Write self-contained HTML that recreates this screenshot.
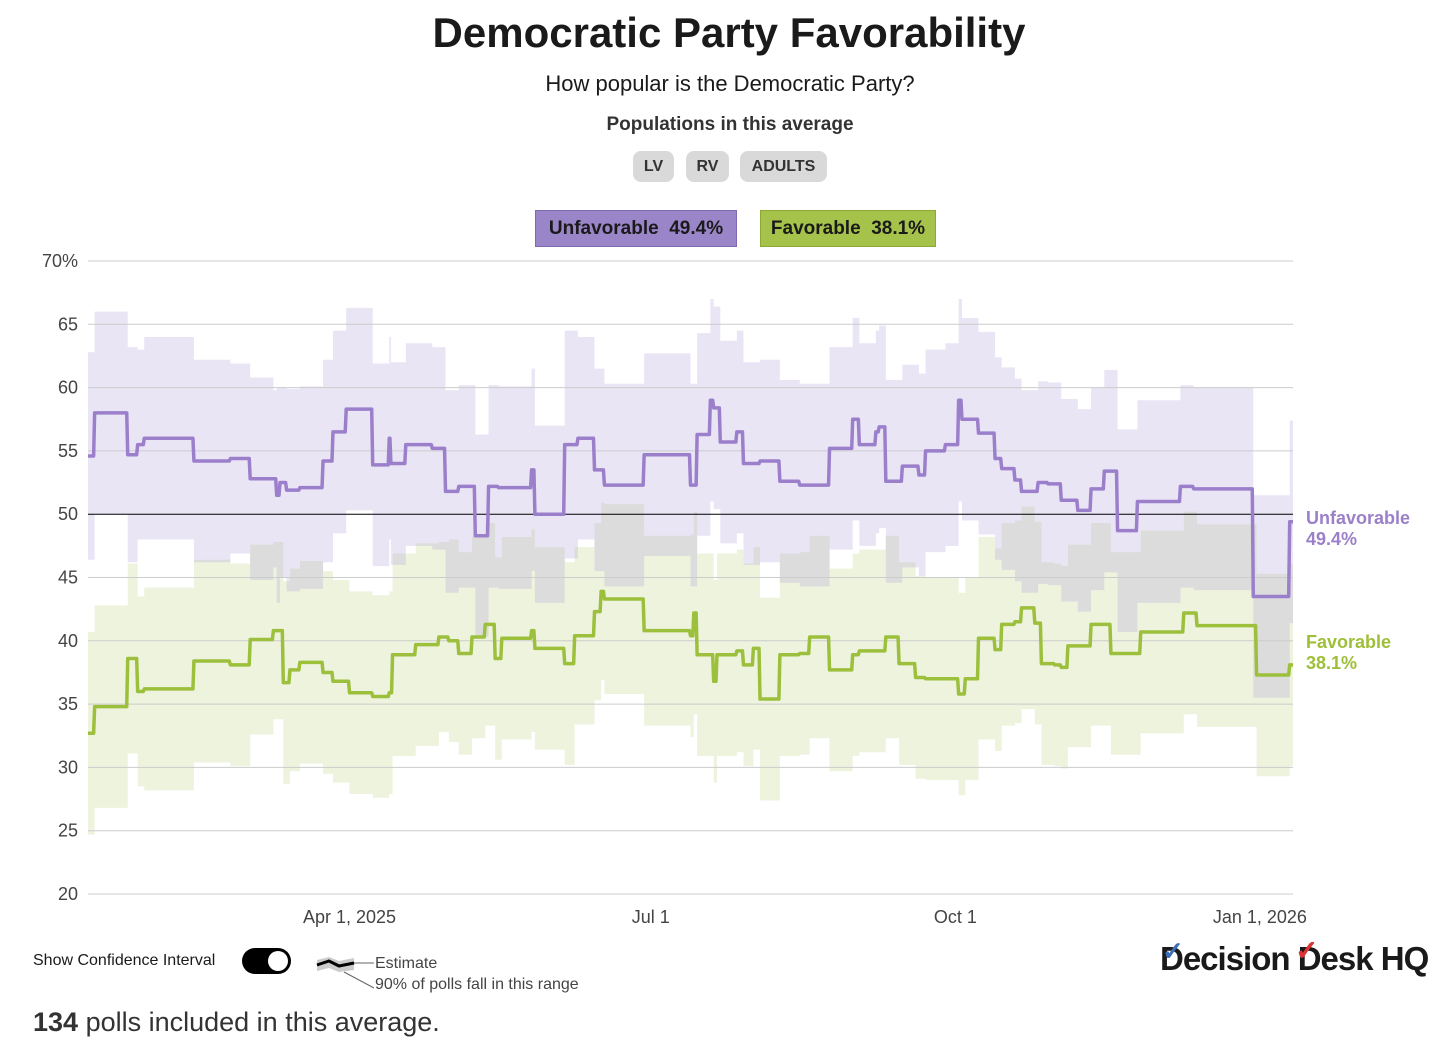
<!DOCTYPE html>
<html><head><meta charset="utf-8"><style>
body{margin:0;width:1456px;height:1051px;background:#fff;font-family:"Liberation Sans",sans-serif;color:#1a1a1a;position:relative;overflow:hidden}
.a{position:absolute}
.pill{position:absolute;top:151px;height:31px;background:#d9d9d9;border-radius:8px;font-weight:bold;font-size:16px;line-height:31px;text-align:center;color:#333}
</style></head><body>
<div class="a" style="left:0;width:1458px;top:9px;text-align:center;font-size:42px;font-weight:bold">Democratic Party Favorability</div>
<div class="a" style="left:0;width:1460px;top:71px;text-align:center;font-size:22px">How popular is the Democratic Party?</div>
<div class="a" style="left:0;width:1460px;top:114px;text-align:center;font-size:19px;font-weight:bold;color:#333">Populations in this average</div>
<div class="pill" style="left:633px;width:41px">LV</div>
<div class="pill" style="left:686px;width:43px">RV</div>
<div class="pill" style="left:740px;width:87px">ADULTS</div>
<div class="a" style="left:535px;top:210px;width:200px;height:35px;background:#9b85c9;border:1px solid #7e68b0;font-size:19px;font-weight:bold;line-height:35px;text-align:center">Unfavorable&nbsp; 49.4%</div>
<div class="a" style="left:760px;top:210px;width:174px;height:35px;background:#a5c24a;border:1px solid #8aa832;font-size:19px;font-weight:bold;line-height:35px;text-align:center">Favorable&nbsp; 38.1%</div>
<svg class="a" style="left:0;top:0" width="1456" height="1051">
<g id="bands"></g><g id="grid"></g><g id="lines"></g><g id="labels"></g>
</svg>
<div class="a" style="left:33px;top:952px;font-size:16px">Show Confidence Interval</div>
<div class="a" style="left:242px;top:948px;width:49px;height:26px;background:#000;border-radius:13px"><div style="position:absolute;right:3px;top:3px;width:20px;height:20px;border-radius:50%;background:#fff"></div></div>
<svg class="a" style="left:314px;top:950px" width="70" height="45">
<path d="M3 10 L15 7 L25 11 L40 8 L40 20 L25 22 L15 18 L3 21Z" fill="#ccc"/>
<path d="M3 15 L15 11 L25 16 L40 13" stroke="#000" stroke-width="3" fill="none"/>
<line x1="40" y1="13" x2="60" y2="13" stroke="#666"/><line x1="30" y1="22" x2="60" y2="38" stroke="#666"/>
</svg>
<div class="a" style="left:375px;top:955px;font-size:16px;color:#444">Estimate</div>
<div class="a" style="left:375px;top:976px;font-size:16px;color:#444">90% of polls fall in this range</div>
<div class="a" style="left:1160px;top:940px;font-size:33px;font-weight:bold;letter-spacing:-1px">Decision Desk HQ<span style="position:absolute;left:2px;top:-4px;color:#3a6fb5;font-size:26px">✓</span><span style="position:absolute;left:135px;top:-6px;color:#d33;font-size:28px">✓</span></div>
<div class="a" style="left:33px;top:1007px;font-size:27px;color:#333"><b>134</b> polls included in this average.</div>
<script>
const unfDays=[0,2,12,15,17,32,43,49,56,57,58,60,64,71,74,78,86,91,91.5,96,104,108,112,117,121,124,134,135,144,148,153,156,168,182,184,188,189,191,196,198,203,209,215,224,231,233,238,239,241,246,251,253,259,263,264,269,274,276,280,282,287,290,294,299,303,307,311,317,330,334,352,363];
const unfVals=[54.6,58,54.7,55.5,56,54.2,54.4,52.8,52.8,51.5,52.5,51.9,52.1,54.2,56.5,58.3,53.9,56,54,55.5,55.2,51.8,52.2,48.3,52.2,52.1,53.5,50,55.5,56,53.5,52.3,54.7,52.3,56.3,59,58.4,55.7,56.5,54,54.2,52.6,52.3,55.2,57.5,55.5,56.5,56.9,52.6,53.8,53.1,55,55.5,59,57.5,56.4,54.4,53.6,52.7,51.8,52.5,52.4,51.1,50.3,52,53.4,48.7,51,52.2,52,43.5,49.4];
const favDays=[0,2,12,15,17,32,43,49,56,59,61,64,71,74,79,86,91,92,99,106,109,112,116,120,123,125,134,135,144,147,153,155,156,168,182,183,184,189,190,196,198,201,203,209,215,218,224,231,233,241,245,250,253,263,265,269,274,276,280,282,286,288,292,294,296,303,309,318,328,331,335,353,363];
const favVals=[32.7,34.8,38.6,36,36.2,38.4,38.1,40.1,40.8,36.7,37.7,38.3,37.5,36.8,35.9,35.6,35.9,38.9,39.7,40.3,40,39,40.3,41.3,38.6,40.2,40.8,39.4,38.2,40.4,42.3,43.9,43.3,40.8,40.4,42.2,38.9,36.8,38.9,39.2,38.1,39.4,35.4,38.9,39,40.3,37.7,38.9,39.2,40.3,38.2,37.1,37,35.8,37,40.2,39.3,41.3,41.5,42.6,41.4,38.2,38.1,37.9,39.6,41.3,39,40.7,40.7,42.2,41.2,37.3,38.1];
const unfBand=[8.2,8,8.5,7.5,8,8,7.5,8,7,8.5,7.5,8,8,8,8,8,8,8,8,8,8,8,8,8,8,8,8,7,9,8,8,8,8,8,8,8,8,8,8,8,8,8,8,8,8,8,8,8,8,8,8,8,8,8,8,8,8,8,8,8,8,8,8,8,8,8,8,8,8,8,8,8];
const favBand=[8,8,7.5,7.5,8,8,8,7.5,7,8,8,8,8,8,8,8,8,8,8,7.5,8,8,8,8,8,8,8,8,8,7,7,7,7.5,7.5,8,8,8,8,8,8,8,8,8,8,8,8,8,8,8,8,8,8,8,8,8,8,8,8,8,8,8,8,8,8,8,8,8,8,8,8,8,8,8];
const yTicks=[20,25,30,35,40,45,50,55,60,65,70];
const xTickDays=[79,170,262,354];
const xTickLabels=["Apr 1, 2025","Jul 1","Oct 1","Jan 1, 2026"];
const endDay=364;
const NS="http://www.w3.org/2000/svg";
const X0=88,X1=1293,Y0=894,Y1=261;
const x=d=>X0+d/endDay*(X1-X0);
const y=v=>Y0-(v-20)/50*(Y0-Y1);
function mk(t,a,p){const e=document.createElementNS(NS,t);for(const k in a)e.setAttribute(k,a[k]);p.appendChild(e);return e;}
function stepPts(days,vals){const pts=[];for(let i=0;i<days.length;i++){const d2=i+1<days.length?days[i+1]:endDay;pts.push([x(days[i]),vals[i]]);pts.push([x(d2)-(i+1<days.length?1:0),vals[i]]);}return pts;}
function valAt(days,vals,d){let v=vals[0];for(let i=0;i<days.length;i++)if(days[i]<=d)v=vals[i];return v;}
const bands=document.getElementById('bands'),grid=document.getElementById('grid'),lines=document.getElementById('lines'),labels=document.getElementById('labels');
const all=[...new Set([...unfDays,...favDays])].sort((a,b)=>a-b);
function bandPath(fnTop,fnBot){let top=[],bot=[];all.forEach((d,i)=>{const d2=i+1<all.length?all[i+1]:endDay;const t=fnTop(d),b=fnBot(d);top.push(x(d)+','+y(t),x(d2)+','+y(t));bot.push(x(d)+','+y(b),x(d2)+','+y(b));});return 'M'+top.join('L')+'L'+bot.reverse().join('L')+'Z';}
const uT=d=>valAt(unfDays,unfVals,d)+valAt(unfDays,unfBand,d);
const uB=d=>valAt(unfDays,unfVals,d)-valAt(unfDays,unfBand,d);
const fT=d=>valAt(favDays,favVals,d)+valAt(favDays,favBand,d);
const fB=d=>valAt(favDays,favVals,d)-valAt(favDays,favBand,d);
let e=mk('path',{d:bandPath(uT,uB),fill:'#e9e5f5'},bands);

e=mk('path',{d:bandPath(fT,fB),fill:'#eef3de'},bands);

e=mk('path',{d:bandPath(fT,d=>Math.min(uB(d),fT(d))),fill:'#dcdcdc'},bands);

yTicks.forEach(v=>{
  const g=mk('line',{x1:X0,x2:X1,y1:y(v),y2:y(v),stroke:v===50?'#000':'#ccc','stroke-width':1},grid);
  
  const t=mk('text',{x:78,y:y(v)+6,'text-anchor':'end','font-size':18,fill:'#444'},labels);
  
  t.textContent=v===70?'70%':v;
});
xTickDays.forEach((d,i)=>{const t=mk('text',{x:x(d),y:923,'text-anchor':'middle','font-size':18,fill:'#444'},labels);
  t.textContent=xTickLabels[i];});
function line(days,vals,col,name){const p=stepPts(days,vals).map(q=>q[0]+','+y(q[1])).join(' ');
  const l=mk('polyline',{points:p,fill:'none',stroke:col,'stroke-width':3.5,'stroke-linejoin':'round'},lines);
  }
line(unfDays,unfVals,'#9b7fcb','unfavorable-line');
line(favDays,favVals,'#9cc03c','favorable-line');
function endLab(txt,val,col,dy,name){const t=mk('text',{x:1306,y:y(val)+dy,'font-size':18,'font-weight':'bold',fill:col},labels);
  t.textContent=txt;}
const uL=unfVals[unfVals.length-1],fL=favVals[favVals.length-1];
endLab('Unfavorable',uL,'#9b80c9',2,'unfavorable-end-label');endLab(uL.toFixed(1)+'%',uL,'#9b80c9',23,'unfavorable-end-value');
endLab('Favorable',fL,'#9fbf3a',-17,'favorable-end-label');endLab(fL.toFixed(1)+'%',fL,'#9fbf3a',4,'favorable-end-value');
</script>
</body></html>
